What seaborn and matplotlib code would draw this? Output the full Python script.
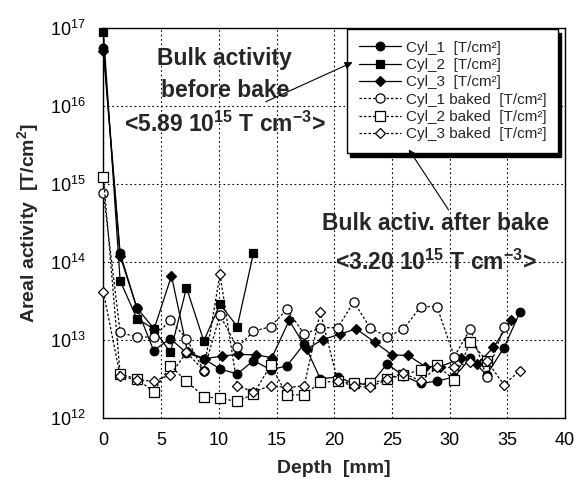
import numpy as np
import pandas as pd
import matplotlib
matplotlib.use("Agg")
import matplotlib.pyplot as plt
import seaborn as sns
from matplotlib.ticker import LogLocator, NullLocator, FixedLocator

# ---------------- data ----------------
depth = [0.0, 1.45, 2.9, 4.35, 5.8, 7.2, 8.7, 10.1, 11.6, 13.0, 14.5, 15.9, 17.4,
         18.8, 20.3, 21.7, 23.1, 24.6, 26.0, 27.5, 28.9, 30.4, 31.8, 33.2, 34.7, 36.1]
depth_cyl3 = [0.0, 1.45, 2.9, 4.4, 5.9, 7.3, 8.8, 10.3, 11.7, 13.2, 14.6, 16.1, 17.6,
              19.0, 20.5, 21.9, 23.5, 25.0, 26.4, 27.9, 29.2, 31.0, 32.4, 33.8, 35.3]

cyl1 = [5.5e16, 1.3e14, 2.6e13, 7.4e12, 1.05e13, 6.9e12, 5.8e12, 4.3e12, 3.7e12, 5.5e12,
        4.2e12, 4.7e12, 9.0e12, 3.2e12, 3.4e12, 2.8e12, 2.7e12, 5.0e12, 3.5e12, 2.8e12,
        3.0e12, 3.4e12, 5.9e12, 3.6e12, 8.0e12, 2.3e13]
cyl2 = [9.0e16, 5.8e13, 1.9e13, 1.4e13, 7.0e12, 4.7e13, 9.8e12, 2.9e13, 1.5e13, 1.3e14]
cyl3 = [5.0e16, 1.2e14, 2.6e13, 1.4e13, 6.7e13, 7.0e12, 5.8e12, 6.3e12, 6.6e12, 6.5e12,
        6.0e12, 1.8e13, 7.7e12, 1.02e13, 1.2e13, 1.4e13, 9.5e12, 6.5e12, 6.4e12, 4.6e12,
        4.6e12, 5.9e12, 5.0e12, 8.1e12, 1.8e13]
cyl1_baked = [7.8e14, 1.26e13, 1.1e13, 1.1e13, 1.8e13, 1.05e13, 4.1e12, 2.1e13, 8.1e12,
              1.3e13, 1.5e13, 2.5e13, 1.2e13, 1.45e13, 1.45e13, 3.1e13, 1.45e13, 1.1e13,
              1.4e13, 2.7e13, 2.7e13, 6.2e12, 1.4e13, 3.4e12, 1.5e13]
cyl2_baked = [1.25e15, 3.7e12, 3.2e12, 2.2e12, 4.7e12, 3.0e12, 1.9e12, 1.8e12, 1.65e12,
              2.05e12, 4.8e12, 2.0e12, 2.0e12, 2.9e12, 3.0e12, 2.8e12, 2.8e12, 3.2e12,
              3.6e12, 4.2e12, 4.8e12, 3.1e12, 9.6e12, 5.5e12]
cyl3_baked = [4.2e13, 3.5e12, 3.1e12, 3.0e12, 3.6e12, 7.0e12, 4.1e12, 7.0e13, 2.6e12,
              2.2e12, 2.6e12, 2.5e12, 2.6e12, 2.3e13, 3.0e12, 2.6e12, 2.5e12, 3.2e12,
              3.8e12, 3.0e12, 4.5e12, 4.5e12, 5.3e12, 5.5e12, 2.7e12, 4.1e12]

labels = ["Cyl_1  [T/cm²]", "Cyl_2  [T/cm²]", "Cyl_3  [T/cm²]",
          "Cyl_1 baked  [T/cm²]", "Cyl_2 baked  [T/cm²]", "Cyl_3 baked  [T/cm²]"]
x_ticks = [0, 5, 10, 15, 20, 25, 30, 35, 40]

# ---------------- style ----------------
sns.set_style("white")
plt.rcParams["font.family"] = ["Liberation Sans", "DejaVu Sans"]
plt.rcParams["mathtext.fontset"] = "custom"
plt.rcParams["mathtext.rm"] = "Liberation Sans"
plt.rcParams["mathtext.bf"] = "Liberation Sans:bold"
plt.rcParams["mathtext.default"] = "regular"

fig = plt.figure(figsize=(5.76, 4.82), dpi=100)
ax = fig.add_axes([0.1795, 0.132, 0.8015, 0.810])

series = [
    (depth[:len(cyl1)], cyl1, dict(marker="o", ms=6.2, mfc="black", ls="-")),
    (depth[:len(cyl2)], cyl2, dict(marker="s", ms=6.2, mfc="black", ls="-")),
    (depth_cyl3, cyl3, dict(marker="D", ms=4.6, mfc="black", ls="-")),
    (depth[:len(cyl1_baked)], cyl1_baked, dict(marker="o", ms=6.6, mfc="white", ls=(0, (2, 1.6)))),
    (depth[:len(cyl2_baked)], cyl2_baked, dict(marker="s", ms=6.6, mfc="white", ls=(0, (2, 1.6)))),
    (depth[:len(cyl3_baked)], cyl3_baked, dict(marker="D", ms=5, mfc="white", ls=(0, (2, 1.6)))),
]

for (xs, ys, st), lab in zip(series, labels):
    df = pd.DataFrame({"depth": xs, "activity": ys})
    sns.lineplot(data=df, x="depth", y="activity", ax=ax, sort=False, estimator=None,
                 color="black", lw=0.9, marker=st["marker"], markersize=st["ms"],
                 markerfacecolor=st["mfc"], markeredgecolor="black", markeredgewidth=0.9,
                 linestyle=st["ls"], clip_on=False, zorder=3, label=lab)

ax.set_yscale("log")
ax.set_xlim(0, 40)
ax.set_ylim(1e12, 1e17)
ax.xaxis.set_major_locator(FixedLocator(x_ticks))
ax.yaxis.set_major_locator(LogLocator(base=10, numticks=10))
ax.yaxis.set_minor_locator(NullLocator())
ax.grid(True, which="major", color="black", lw=0.8, ls=(0, (1.5, 2.5)))
ax.tick_params(axis="both", which="major", direction="in", length=5, width=0.8,
               labelsize=13, colors="black")
ax.tick_params(axis="x", pad=10)
ax.tick_params(axis="y", pad=13)
for sp in ax.spines.values():
    sp.set_color("black")
    sp.set_linewidth(1.0)

ax.set_xlabel("Depth  [mm]", fontsize=14, fontweight="bold", labelpad=8)
ax.set_ylabel("Areal activity  [T/cm$^2$]", fontsize=14, fontweight="bold", labelpad=6)

leg = ax.legend(loc="upper right", bbox_to_anchor=(0.985, 0.997), fontsize=11,
                frameon=True, fancybox=False, edgecolor="black", framealpha=1,
                shadow={"color": "black", "alpha": 1, "ox": 2, "oy": -3},
                handlelength=2.8, handletextpad=0.3, labelspacing=0.22,
                borderpad=0.75, borderaxespad=0)
leg.get_frame().set_linewidth(1.0)
leg.set_zorder(5)

# ---------------- annotations ----------------
tkw = dict(transform=ax.transAxes, ha="center", va="center", fontsize=16.5,
           fontweight="bold", zorder=6)
ax.text(0.263, 0.921, "Bulk activity", **tkw)
ax.text(0.263, 0.840, "before bake", **tkw)
ax.text(0.264, 0.754, "<5.89 10$^{15}$ T cm$^{-3}$>", **tkw)
ax.text(0.720, 0.498, "Bulk activ. after bake", **tkw)
ax.text(0.720, 0.401, "<3.20 10$^{15}$ T cm$^{-3}$>", **tkw)

arrow = dict(arrowstyle="-|>", color="black", lw=0.8, mutation_scale=11)
ax.annotate("", xy=(0.545, 0.915), xytext=(0.346, 0.808), xycoords="axes fraction",
            textcoords="axes fraction", arrowprops=arrow, zorder=7)
ax.annotate("", xy=(0.658, 0.695), xytext=(0.751, 0.528), xycoords="axes fraction",
            textcoords="axes fraction", arrowprops=arrow, zorder=7)

fig.savefig("out.png", dpi=100)
